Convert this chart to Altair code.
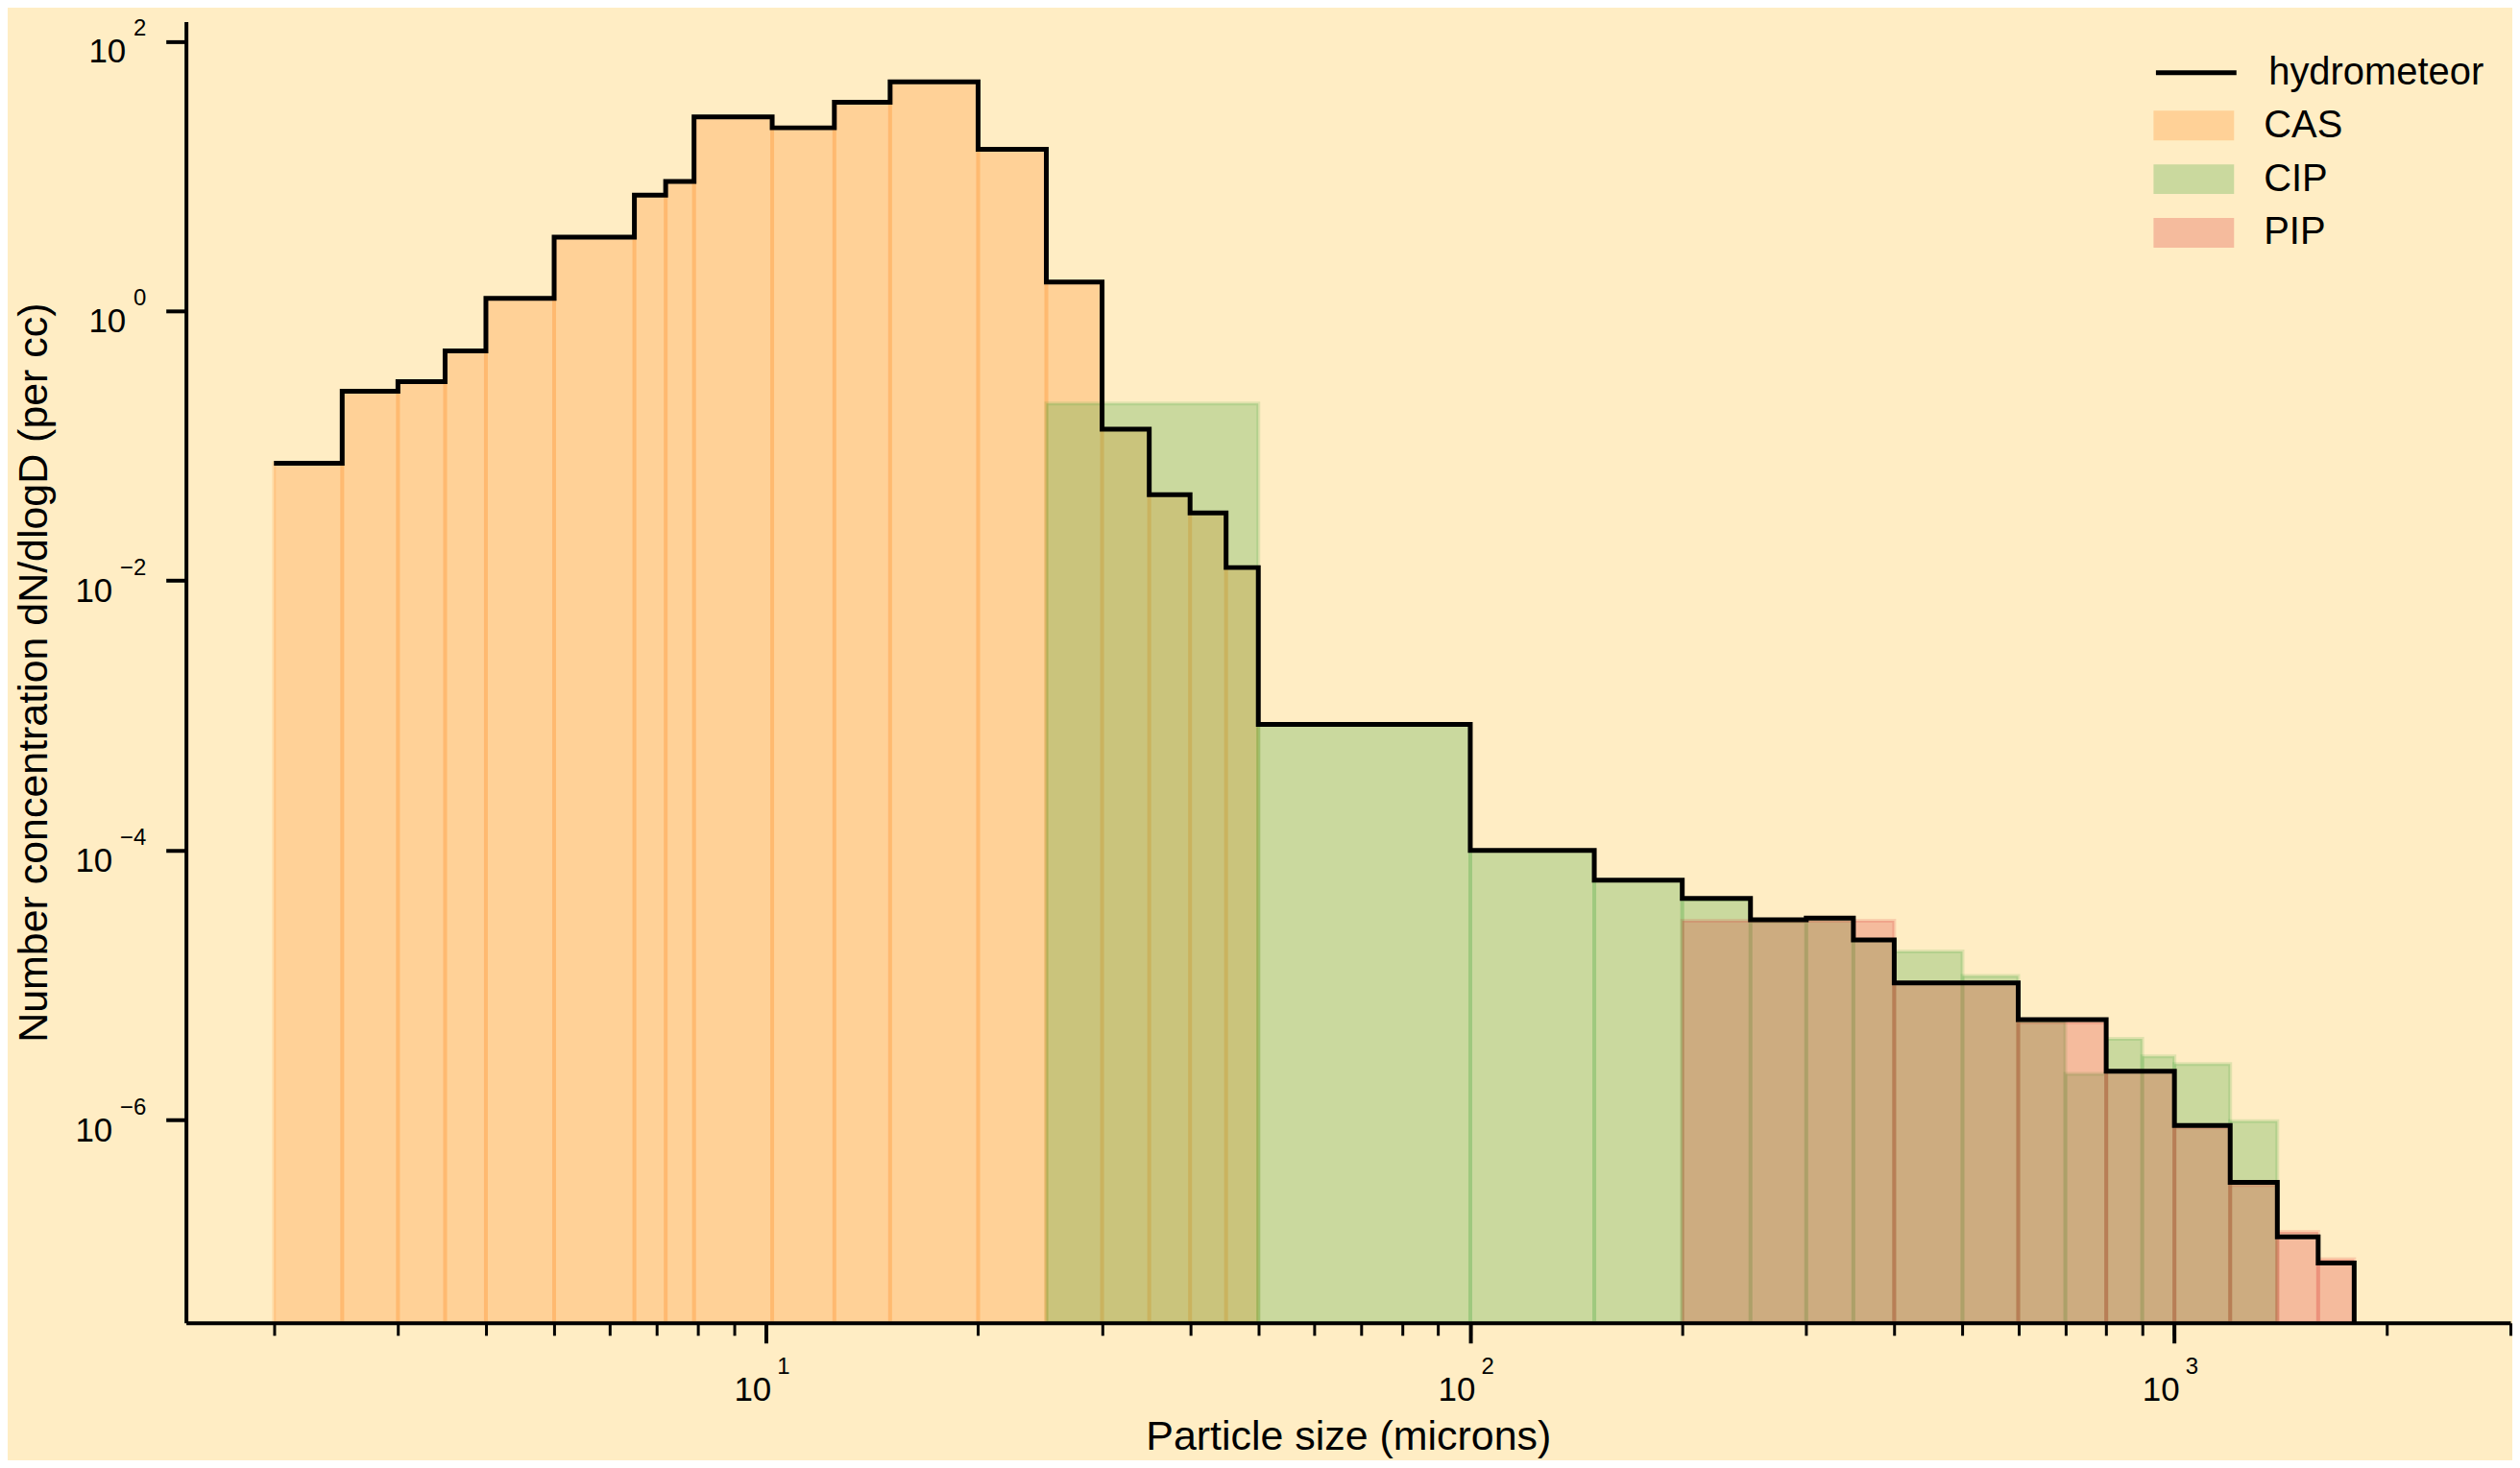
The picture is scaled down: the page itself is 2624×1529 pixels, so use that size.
import altair as alt
import pandas as pd

# ---------------- data ----------------
CAS_EDGES = [2.0, 2.5, 3.0, 3.5, 4.0, 5.0, 6.5, 7.2, 7.9, 10.2, 12.5, 15.0, 20.0,
             25.0, 30.0, 35.0, 40.0, 45.0, 50.0]
CAS_VALUES = [0.0743, 0.2535, 0.2985, 0.505, 1.24, 3.52, 7.21, 9.12, 27.5, 22.8,
              35.3, 49.9, 15.8, 1.64, 0.133, 0.0434, 0.0318, 0.0125]

CIP_EDGES = [25, 50, 100, 150, 200, 250, 300, 350, 400, 500, 600, 700, 800, 900,
             1000, 1200, 1400]
CIP_VALUES = [0.206, 8.6e-4, 1.0e-4, 6.0e-5, 4.3e-5, 2.95e-5, 3.14e-5, 2.16e-5,
              1.78e-5, 1.17e-5, 5.4e-6, 2.2e-6, 4.0e-6, 2.97e-6, 2.6e-6, 9.8e-7]

PIP_EDGES = [200, 400, 600, 800, 1000, 1200, 1400, 1600, 1800]
PIP_VALUES = [3.0e-5, 1.04e-5, 5.3e-6, 2.3e-6, 8.8e-7, 3.3e-7, 1.48e-7, 9.3e-8]

HYD_EDGES = [2.0, 2.5, 3.0, 3.5, 4.0, 5.0, 6.5, 7.2, 7.9, 10.2, 12.5, 15.0, 20.0,
             25.0, 30.0, 35.0, 40.0, 45.0, 50.0, 100, 150, 200, 250, 300, 350, 400,
             600, 800, 1000, 1200, 1400, 1600, 1800]
HYD_VALUES = [0.0743, 0.2535, 0.2985, 0.505, 1.24, 3.52, 7.21, 9.12, 27.5, 22.8,
              35.3, 49.9, 15.8, 1.64, 0.133, 0.0434, 0.0318, 0.0125,
              8.6e-4, 1.0e-4, 6.0e-5, 4.4e-5, 3.05e-5, 3.14e-5, 2.16e-5, 1.04e-5,
              5.55e-6, 2.3e-6, 9.1e-7, 3.45e-7, 1.36e-7, 8.7e-8]

INSTRUMENTS = ["CAS", "CIP", "PIP"]
COLORS = ["#ff7f0e", "#2ca02c", "#d62728"]
LINE_NAME = "hydrometeor"

X_DOMAIN = [1.5, 3000]
Y_DOMAIN = [3.13e-8, 140]
X_MAJOR = [10, 100, 1000]
X_ALL = [m * 10 ** k for k in range(0, 4) for m in range(1, 10) if 2 <= m * 10 ** k <= 3000]
Y_MAJOR = [1e-6, 1e-4, 1e-2, 1, 100]

FONT = "Liberation Sans"
BG = "#FFEDC4"

# ---------------- tables ----------------
rows = []
for name, edges, vals in [("CAS", CAS_EDGES, CAS_VALUES),
                          ("CIP", CIP_EDGES, CIP_VALUES),
                          ("PIP", PIP_EDGES, PIP_VALUES)]:
    for i, v in enumerate(vals):
        rows.append({"instrument": name, "x0": edges[i], "x1": edges[i + 1], "v": v})
bars = pd.DataFrame(rows)

pts = [{"x": HYD_EDGES[i], "v": HYD_VALUES[i]} for i in range(len(HYD_VALUES))]
pts.append({"x": HYD_EDGES[-1], "v": HYD_VALUES[-1]})
pts.append({"x": HYD_EDGES[-1], "v": Y_DOMAIN[0]})
for i, p in enumerate(pts):
    p["i"] = i
    p["series"] = LINE_NAME
line_df = pd.DataFrame(pts)

xscale = alt.Scale(type="log", domain=X_DOMAIN, nice=False)
yscale = alt.Scale(type="log", domain=Y_DOMAIN, nice=False)

IS_MAJOR = "abs(log(datum.value)/LN10 - round(log(datum.value)/LN10)) < 0.001"
EXP = "replace(toString(round(log(datum.value)/LN10)), '-', '\u2212')"

BASE_FS = 35
EXP_FS = 24

common = dict(labelFont=FONT, labelColor="black", labelOverlap=False,
              labelFlush=False, labelBound=False, grid=False, zindex=1)

xA = alt.Axis(values=X_MAJOR, orient="bottom", title="Particle size (microns)",
              titleFont=FONT, titleFontSize=43, titleFontWeight="normal",
              titleColor="black", titleY=132, titleBaseline="alphabetic",
              labelExpr="'10'", labelFontSize=BASE_FS, labelAlign="right",
              labelBaseline="alphabetic", labelPadding=60, labelOffset=5,
              ticks=True, tickSize=21, tickWidth=4, tickColor="black",
              domain=True, domainColor="black", domainWidth=4, **common)

xB = alt.Axis(values=X_ALL, orient="bottom", title=None,
              labelExpr=f"{IS_MAJOR} ? {EXP} : ''", labelFontSize=EXP_FS,
              labelAlign="left", labelBaseline="alphabetic", labelPadding=40,
              labelOffset=11, ticks=True, tickSize=13, tickWidth=3,
              tickColor="black", domain=False, **common)

yA = alt.Axis(values=Y_MAJOR, orient="left",
              title="Number concentration dN/dlogD (per cc)",
              titleFont=FONT, titleFontSize=43, titleFontWeight="normal",
              titleColor="black", titleX=-145, titleY=679, titleAngle=270,
              titleAlign="center", titleBaseline="alphabetic",
              labelExpr="'10'", labelFontSize=BASE_FS, labelAlign="right",
              labelBaseline="alphabetic", labelOffset=22,
              labelPadding={"condition": {"test": "datum.value < 0.5", "value": 56}, "value": 42},
              ticks=True, tickSize=21, tickWidth=4, tickColor="black",
              domain=True, domainColor="black", domainWidth=4, **common)

yB = alt.Axis(values=Y_MAJOR, orient="left", title=None,
              labelExpr=EXP, labelFontSize=EXP_FS, labelAlign="right",
              labelBaseline="alphabetic", labelOffset=-6, labelPadding=21,
              ticks=True, tickSize=21, tickWidth=4, tickColor="transparent",
              domain=False, **common)

# legend symbols: reserved box of 42 px, drawn 84 px wide
SYM_SIZE = 42 * 42
LEG_X = 2073.7

rects = alt.Chart(bars).mark_rect(fillOpacity=0.25, strokeOpacity=0.15, strokeWidth=4).encode(
    x=alt.X("x0:Q", scale=xscale, axis=xA),
    x2="x1:Q",
    y=alt.Y("v:Q", scale=yscale, axis=yA),
    y2=alt.datum(Y_DOMAIN[0]),
    fill=alt.Fill("instrument:N",
                  scale=alt.Scale(domain=INSTRUMENTS, range=COLORS),
                  legend=alt.Legend(orient="none", legendX=LEG_X, legendY=87.5,
                                    title=None, padding=0,
                                    symbolType="M-2,-0.738H2V0.738H-2Z",
                                    symbolSize=SYM_SIZE, symbolOpacity=0.25,
                                    symbolStrokeWidth=0, labelFont=FONT,
                                    labelFontSize=40, labelColor="black",
                                    labelLimit=0, labelOffset=52, rowPadding=15)),
    stroke=alt.Stroke("instrument:N",
                      scale=alt.Scale(domain=INSTRUMENTS, range=COLORS),
                      legend=None),
)

line = alt.Chart(line_df).mark_line(strokeWidth=5, interpolate="step-after",
                                    strokeJoin="miter", strokeCap="butt").encode(
    x=alt.X("x:Q", scale=xscale, axis=xB),
    y=alt.Y("v:Q", scale=yscale, axis=yB),
    order=alt.Order("i:Q"),
    color=alt.Color("series:N",
                    scale=alt.Scale(domain=[LINE_NAME], range=["#000000"]),
                    legend=alt.Legend(orient="none", legendX=LEG_X, legendY=30,
                                      title=None, padding=0, symbolType="M-2,0H2",
                                      symbolSize=SYM_SIZE, symbolStrokeWidth=5,
                                      symbolFillColor="transparent",
                                      labelFont=FONT, labelFontSize=40,
                                      labelColor="black", labelLimit=0,
                                      labelOffset=52)),
)

chart = alt.layer(rects, line).resolve_axis(x="independent", y="independent").properties(
    width=2425, height=1358,
    padding={"left": 186, "top": 13, "right": 2, "bottom": 142},
    autosize=alt.AutoSizeParams(type="none"),
    background=BG,
).configure_view(stroke=None, fill=BG)

chart.save("out.html", embed_options={"renderer": "svg", "actions": False})
